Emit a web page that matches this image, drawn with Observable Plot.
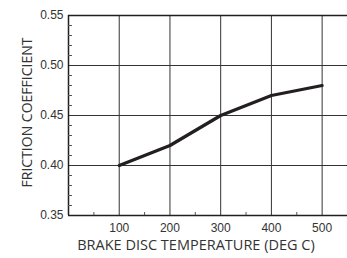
<!DOCTYPE html>
<html><head><meta charset="utf-8">
<script src="https://cdn.jsdelivr.net/npm/d3@7"></script>
<script src="https://cdn.jsdelivr.net/npm/@observablehq/plot@0.6"></script>
<style>body{margin:0;background:#fff}</style>
</head><body><div id="chart"></div>
<script>
const temps = [100, 200, 300, 400, 500];
const friction = [0.40, 0.42, 0.45, 0.47, 0.48];
const xGrid = [100, 200, 300, 400, 500];
const xMinor = [50, 150, 250, 350, 450];
const yGrid = [0.40, 0.45, 0.50];
const yTicks = [0.35, 0.40, 0.45, 0.50, 0.55];
const yMinor = [0.36,0.37,0.38,0.39,0.41,0.42,0.43,0.44,0.46,0.47,0.48,0.49,0.51,0.52,0.53,0.54];
const xLabel = "BRAKE DISC TEMPERATURE (DEG C)";
const yLabel = "FRICTION COEFFICIENT";

const data = temps.map((t, i) => ({t, f: friction[i]}));
const ink = "#231f20";

const chart = Plot.plot({
  width: 347, height: 258,
  marginLeft: 68, marginTop: 15, marginBottom: 43, marginRight: 0,
  x: {domain: [0, 550]},
  y: {domain: [0.35, 0.55]},
  style: {fontFamily: "Liberation Sans, Arial, sans-serif", color: ink, background: "#fff"},
  marks: [
    Plot.ruleX(xGrid, {stroke: "#333", strokeWidth: 1}),
    Plot.ruleY(yGrid, {stroke: "#333", strokeWidth: 1}),
    Plot.ruleY([0.35, 0.55], {stroke: ink, strokeWidth: 1.5}),
    Plot.ruleX([0], {stroke: ink, strokeWidth: 1.5}),
    Plot.axisX(xMinor, {tickSize: -3, fill: "none", label: null, stroke: "#555"}),
    Plot.axisY(yMinor, {tickSize: -4, fill: "none", label: null, stroke: "#555"}),
    Plot.axisX(xGrid, {tickSize: 0, tickPadding: 8, fontSize: 12, label: null, fill: "#333"}),
    Plot.axisY(yTicks, {tickSize: 0, tickPadding: 5, fontSize: 12, tickFormat: d3.format(".2f"), label: null, fill: "#333"}),
    Plot.line(data, {x: "t", y: "f", stroke: ink, strokeWidth: 3.2}),
    Plot.text([xLabel], {frameAnchor: "bottom", lineAnchor: "middle", dy: 30, dx: -12, fontSize: 14.5, fontFamily: "Open Sans", fill: "#333", text: d => d}),
    Plot.text([yLabel], {frameAnchor: "left", textAnchor: "middle", dx: -41, dy: -3, rotate: -90, fontSize: 14, fontFamily: "Open Sans", fill: "#333", text: d => d})
  ]
});
document.getElementById("chart").append(chart);
</script>
</body></html>
